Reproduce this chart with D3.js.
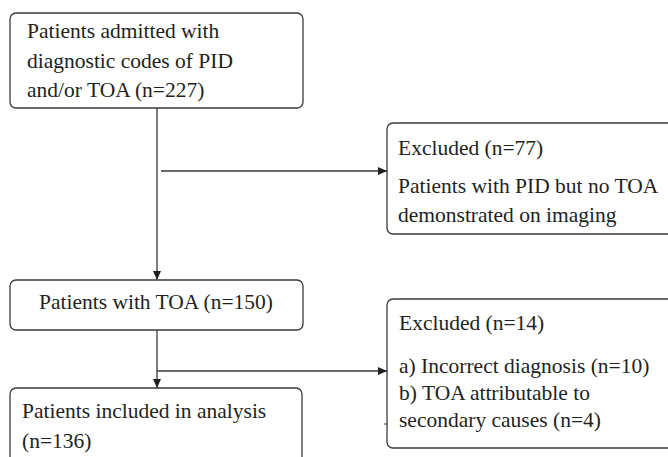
<!DOCTYPE html>
<html>
<head>
<meta charset="utf-8">
<script src="https://cdn.jsdelivr.net/npm/d3@7"></script>
<style>
  body { margin: 0; background: #fff; }
  svg { display: block; }
</style>
</head>
<body>
<div id="chart"></div>
<script>
// counts
var stageNames = ["admitted", "withTOA", "included"];
var stageCounts = [227, 150, 136];
var excludedNames = ["noTOA", "secondStep"];
var excludedCounts = [77, 14];
var reasonLabels = ["a) Incorrect diagnosis", "b) TOA attributable to"];
var reasonCounts = [10, 4];

var width = 668, height = 457;

// box layout (positions kept apart from the data)
var layout = {
  admitted:   { x: 10,  y: 13,  w: 293, h: 95,  align: "start",  tx: 27,  lines: [38, 68, 97] },
  withTOA:    { x: 10,  y: 280, w: 293, h: 50,  align: "middle", tx: 156, lines: [309] },
  included:   { x: 10,  y: 388, w: 292, h: 90,  align: "start",  tx: 22,  lines: [418, 448] },
  noTOA:      { x: 387, y: 123, w: 300, h: 111, align: "start",  tx: 398, lines: [155, 193, 222] },
  secondStep: { x: 387, y: 299, w: 300, h: 149, align: "start",  tx: 399, lines: [330, 373, 400, 427] }
};

var texts = {
  admitted: ["Patients admitted with", "diagnostic codes of PID", "and/or TOA (n=" + stageCounts[0] + ")"],
  withTOA: ["Patients with TOA (n=" + stageCounts[1] + ")"],
  included: ["Patients included in analysis", "(n=" + stageCounts[2] + ")"],
  noTOA: ["Excluded (n=" + excludedCounts[0] + ")", "Patients with PID but no TOA", "demonstrated on imaging"],
  secondStep: ["Excluded (n=" + excludedCounts[1] + ")",
               reasonLabels[0] + " (n=" + reasonCounts[0] + ")",
               reasonLabels[1],
               "secondary causes (n=" + reasonCounts[1] + ")"]
};

var boxes = stageNames.concat(excludedNames).map(function (k) {
  return Object.assign({ key: k, text: texts[k] }, layout[k]);
});

var svg = d3.select("#chart").append("svg")
    .attr("width", width)
    .attr("height", height);

var lineColor = "#3a3a3a";
var headLen = 9, headHalf = 4;

// connectors
var links = [
  { x1: 157, y1: 108, x2: 157, y2: 280 },
  { x1: 161, y1: 171, x2: 387, y2: 171 },
  { x1: 157, y1: 330, x2: 157, y2: 388 },
  { x1: 157, y1: 371, x2: 387, y2: 371 }
];

svg.selectAll(".link")
    .data(links)
    .enter().append("line")
    .attr("class", "link")
    .attr("x1", function (d) { return d.x1; })
    .attr("y1", function (d) { return d.y1; })
    .attr("x2", function (d) { return d.x2; })
    .attr("y2", function (d) { return d.y2; })
    .attr("stroke", lineColor)
    .attr("stroke-width", 1.3);

// arrow heads drawn as triangles at the line ends
svg.selectAll(".head")
    .data(links)
    .enter().append("path")
    .attr("class", "head")
    .attr("fill", "#231f20")
    .attr("d", function (d) {
      var a = Math.atan2(d.y2 - d.y1, d.x2 - d.x1),
          c = Math.cos(a), s = Math.sin(a),
          bx = d.x2 - headLen * c, by = d.y2 - headLen * s;
      return "M" + d.x2 + "," + d.y2 +
             "L" + (bx - headHalf * s) + "," + (by + headHalf * c) +
             "L" + (bx + headHalf * s) + "," + (by - headHalf * c) + "Z";
    });

// small stray tick left of the lower exclusion box
svg.append("line")
    .attr("x1", 384).attr("y1", 424).attr("x2", 387).attr("y2", 424)
    .attr("stroke", lineColor).attr("stroke-width", 1);

var node = svg.selectAll(".box")
    .data(boxes)
    .enter().append("g")
    .attr("class", "box");

node.append("rect")
    .attr("x", function (d) { return d.x; })
    .attr("y", function (d) { return d.y; })
    .attr("width", function (d) { return d.w; })
    .attr("height", function (d) { return d.h; })
    .attr("rx", 6)
    .attr("fill", "#fff")
    .attr("stroke", lineColor)
    .attr("stroke-width", 1.3);

node.each(function (d) {
  d3.select(this).selectAll("text")
      .data(d.text)
      .enter().append("text")
      .attr("x", d.tx)
      .attr("y", function (t, i) { return d.lines[i]; })
      .attr("text-anchor", d.align)
      .style("font-family", "'Liberation Serif', serif")
      .style("font-size", "21.5px")
      .attr("fill", "#231f20")
      .text(function (t) { return t; });
});
</script>
</body>
</html>
